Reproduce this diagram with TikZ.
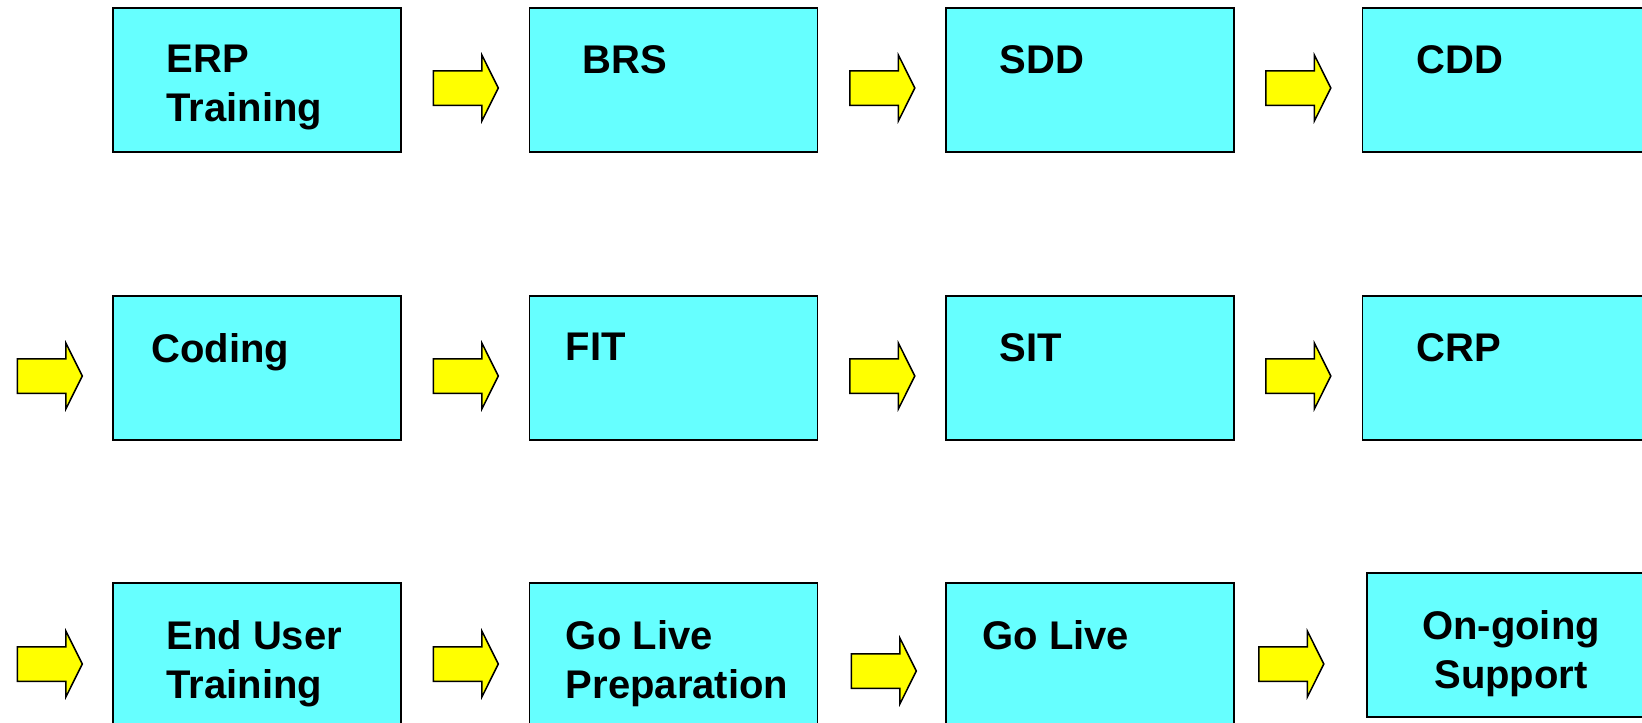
\documentclass[tikz,border=0pt]{standalone}
\usepackage{fontspec}
\setmainfont{Liberation Sans}
\usetikzlibrary{shapes.arrows}
\definecolor{boxcyan}{HTML}{66FFFF}
\definecolor{arrowyellow}{HTML}{FFFF00}
\tikzset{
  stage/.style={shape=rectangle, draw=black, line width=1.5pt, fill=boxcyan, minimum width=288pt, minimum height=144pt, inner sep=0pt},
  stagetext/.style={anchor=north west, align=left, inner sep=0pt, font=\fontsize{40}{49}\selectfont\bfseries},
  flow/.style={shape=single arrow, draw=black, line width=1.5pt, fill=arrowyellow, minimum height=65pt, minimum width=64pt, single arrow head extend=15.5pt, single arrow tip angle=127, inner xsep=0pt, inner ysep=16.5pt}
}
\begin{document}
\begin{tikzpicture}[x=1pt, y=-1pt]
\useasboundingbox (0,0) rectangle (1642,723);
% first row
\node[stage, label={[stagetext, xshift=54pt, yshift=-38pt]north west:{ERP\\Training}}] (erp) at (257,80) {};
\node[stage, label={[stagetext, xshift=54pt, yshift=-38pt]north west:{BRS}}] (brs) at (673.5,80) {};
\node[stage, label={[stagetext, xshift=54pt, yshift=-38pt]north west:{SDD}}] (sdd) at (1090,80) {};
\node[stage, label={[stagetext, xshift=55pt, yshift=-38pt]north west:{CDD}}] (cdd) at (1506.5,80) {};
% second row
\node[stage, label={[stagetext, xshift=39pt, yshift=-38pt]north west:{Coding}}] (coding) at (257,368) {};
\node[stage, label={[stagetext, xshift=37pt, yshift=-38pt]north west:{FIT}}] (fit) at (673.5,368) {};
\node[stage, label={[stagetext, xshift=54pt, yshift=-38pt]north west:{SIT}}] (sit) at (1090,368) {};
\node[stage, label={[stagetext, xshift=55pt, yshift=-38pt]north west:{CRP}}] (crp) at (1506.5,368) {};
% third row
\node[stage, label={[stagetext, xshift=54pt, yshift=-38pt]north west:{End User\\Training}}] (enduser) at (257,655) {};
\node[stage, label={[stagetext, xshift=37pt, yshift=-38pt]north west:{Go Live\\Preparation}}] (prep) at (673.5,655) {};
\node[stage, label={[stagetext, xshift=37pt, yshift=-38pt]north west:{Go Live}}] (golive) at (1090,655) {};
\node[stage, label={[stagetext, anchor=north, align=center, yshift=-38pt]north:{On-going\\Support}}] (support) at (1511,645) {};
% yellow arrows
\node[flow] (a1) at (461.5,88) {};
\node[flow] (a2) at (878,88) {};
\node[flow] (a3) at (1294,88) {};
\node[flow] (b0) at (45.5,376) {};
\node[flow] (b1) at (461.5,376) {};
\node[flow] (b2) at (878,376) {};
\node[flow] (b3) at (1294,376) {};
\node[flow] (c0) at (45.5,664) {};
\node[flow] (c1) at (461.5,664) {};
\node[flow] (c2) at (879.5,671) {};
\node[flow] (c3) at (1287,664) {};
\end{tikzpicture}
\end{document}
